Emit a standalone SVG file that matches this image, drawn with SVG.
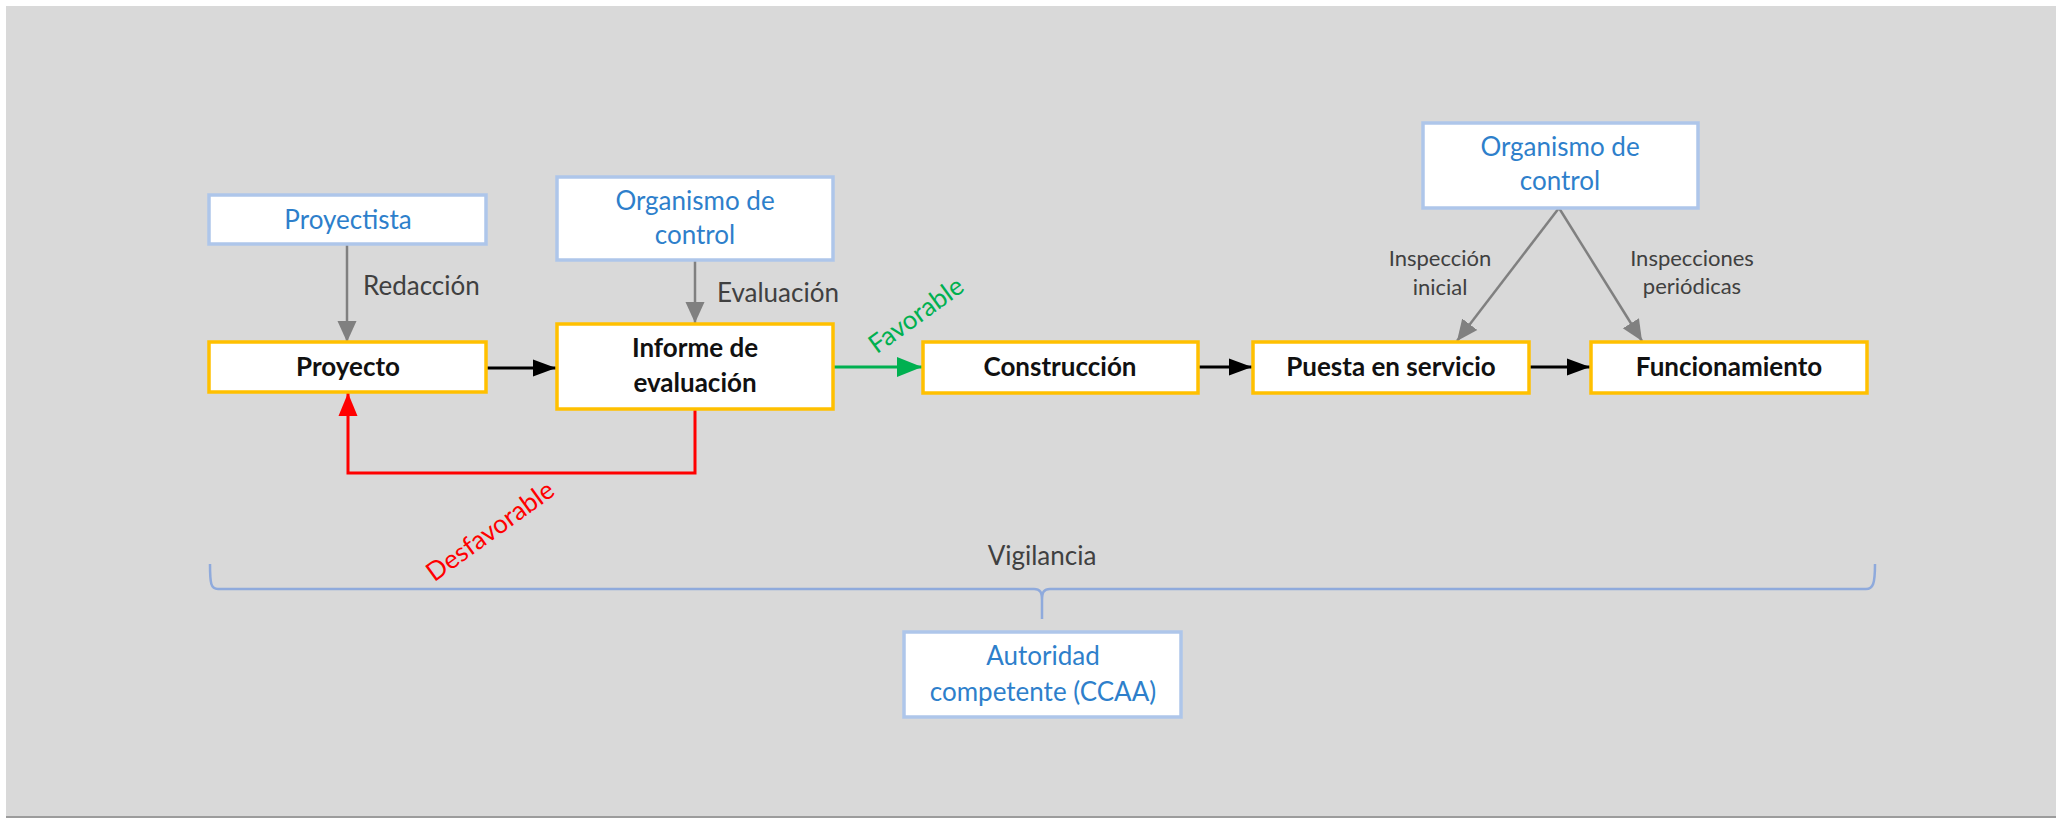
<svg xmlns="http://www.w3.org/2000/svg" width="2056" height="818" viewBox="0 0 2056 818">
<style>
text{font-family:Lato,"Liberation Sans","DejaVu Sans",sans-serif}
.yb{fill:#fff;stroke:#ffc000;stroke-width:3.5}
.bb{fill:#fff;stroke:#aec6ea;stroke-width:3.5}
.bt{fill:#2e7fcb;font-size:26px;text-anchor:middle}
.kt{fill:#111;font-size:26px;font-weight:bold;text-anchor:middle}
.gt{fill:#404040;font-size:26px}
.st{fill:#404040;font-size:22px;text-anchor:middle}
.ga{stroke:#808080;stroke-width:2.5;fill:none}
.ka{stroke:#000;stroke-width:3;fill:none}
</style>
<defs>
<marker id="mg" markerUnits="userSpaceOnUse" markerWidth="22" markerHeight="22" viewBox="0 0 22 22" refX="21" refY="11" orient="auto"><path d="M0,1.5 L21,11 L0,20.5 Z" fill="#808080"/></marker>
<marker id="mk" markerUnits="userSpaceOnUse" markerWidth="24" markerHeight="20" viewBox="0 0 24 20" refX="23" refY="10" orient="auto"><path d="M0,1.5 L23,10 L0,18.5 Z" fill="#000"/></marker>
<marker id="mgr" markerUnits="userSpaceOnUse" markerWidth="26" markerHeight="22" viewBox="0 0 26 22" refX="25" refY="11" orient="auto"><path d="M0,1 L25,11 L0,21 Z" fill="#00b050"/></marker>
<marker id="mr" markerUnits="userSpaceOnUse" markerWidth="24" markerHeight="22" viewBox="0 0 24 22" refX="23" refY="11" orient="auto"><path d="M0,1.5 L23,11 L0,20.5 Z" fill="#ff0000"/></marker>
</defs>
<rect x="0" y="0" width="2056" height="818" fill="#fff"/>
<rect x="6" y="6" width="2050" height="810" fill="#d9d9d9"/>
<rect x="6" y="816" width="2050" height="2" fill="#9c9c9c"/>

<g id="connectors">
<line class="ga" x1="347" y1="244" x2="347" y2="342" marker-end="url(#mg)"/>
<line class="ga" x1="695" y1="260" x2="695" y2="323" marker-end="url(#mg)"/>
<line class="ka" x1="487" y1="368" x2="556" y2="368" marker-end="url(#mk)"/>
<line stroke="#00b050" stroke-width="3" x1="833" y1="367" x2="922" y2="367" marker-end="url(#mgr)"/>
<line class="ka" x1="1198" y1="367" x2="1252" y2="367" marker-end="url(#mk)"/>
<line class="ka" x1="1529" y1="367" x2="1590" y2="367" marker-end="url(#mk)"/>
<path stroke="#ff0000" stroke-width="3" fill="none" d="M695,410 L695,473 L348,473 L348,393" marker-end="url(#mr)"/>
<line class="ga" x1="1559" y1="208" x2="1457" y2="341" marker-end="url(#mg)"/>
<line class="ga" x1="1559" y1="208" x2="1642" y2="341" marker-end="url(#mg)"/>
<path stroke="#8faadc" stroke-width="2.5" fill="none" d="M210,564 C210,584 211,589 218,589 L1034,589 C1040,589 1042,592 1042,600 L1042,619 M1042,600 C1042,592 1044,589 1050,589 L1866,589 C1873,589 1875,584 1875,564"/>
<text class="gt" x="363" y="295">Redacción</text>
<text class="gt" x="717" y="302">Evaluación</text>
<text class="st" x="1440" y="266">Inspección</text>
<text class="st" x="1440" y="295">inicial</text>
<text class="st" x="1692" y="266">Inspecciones</text>
<text class="st" x="1692" y="294">periódicas</text>
<text fill="#00b050" font-size="26px" text-anchor="middle" transform="translate(916,315) rotate(-36)" y="9">Favorable</text>
<text fill="#ff0000" font-size="26px" text-anchor="middle" transform="translate(490,531) rotate(-36)" y="9">Desfavorable</text>
<text class="gt" x="1042" y="565" text-anchor="middle">Vigilancia</text>
</g>

<g id="proyectista"><rect class="bb" x="209" y="195" width="277" height="49"/><text class="bt" x="348" y="229">Proyectista</text></g>
<g id="organismo1"><rect class="bb" x="557" y="177" width="276" height="83"/><text class="bt" x="695" y="210">Organismo de</text><text class="bt" x="695" y="244">control</text></g>
<g id="organismo2"><rect class="bb" x="1423" y="123" width="275" height="85"/><text class="bt" x="1560" y="156">Organismo de</text><text class="bt" x="1560" y="190">control</text></g>
<g id="proyecto"><rect class="yb" x="209" y="342" width="277" height="50"/><text class="kt" x="348" y="376">Proyecto</text></g>
<g id="informe"><rect class="yb" x="557" y="324" width="276" height="85"/><text class="kt" x="695" y="357">Informe de</text><text class="kt" x="695" y="392">evaluación</text></g>
<g id="construccion"><rect class="yb" x="923" y="342" width="275" height="51"/><text class="kt" x="1060" y="376">Construcción</text></g>
<g id="puesta"><rect class="yb" x="1253" y="342" width="276" height="51"/><text class="kt" x="1391" y="376">Puesta en servicio</text></g>
<g id="funcionamiento"><rect class="yb" x="1591" y="342" width="276" height="51"/><text class="kt" x="1729" y="376">Funcionamiento</text></g>
<g id="autoridad"><rect class="bb" x="904" y="632" width="277" height="85"/><text class="bt" x="1043" y="665">Autoridad</text><text class="bt" x="1043" y="701">competente (CCAA)</text></g>
</svg>
